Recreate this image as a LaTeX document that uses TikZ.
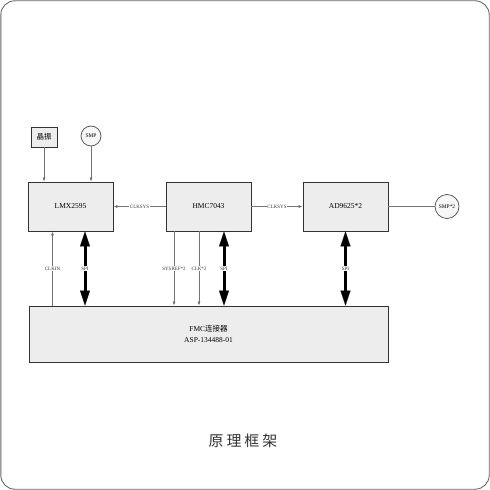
\documentclass[tikz,border=0pt]{standalone}
\usepackage{fontspec}
\setmainfont{Liberation Serif}
\newfontfamily\cjk{Noto Sans CJK SC}
\usetikzlibrary{arrows.meta}
\begin{document}
\begin{tikzpicture}[x=1bp,y=-1bp,
  blk/.style={draw=black!80, fill=black!7, line width=0.8bp, inner sep=0pt, font=\fontsize{7.5}{8}\selectfont},
  rnd/.style={circle, draw=black!70, fill=black!3, line width=0.7bp, inner sep=0pt, font=\fontsize{5.5}{6}\selectfont},
  thin/.style={draw=black!55, line width=0.7bp, -{Latex[length=4bp,width=3bp,fill=black]}},
  thick/.style={draw=black, line width=3bp, {Triangle[length=15bp,width=10bp,line width=0.1bp]}-{Triangle[length=15bp,width=10bp,line width=0.1bp]}},
  lbl/.style={fill=white, inner sep=0.6bp, font=\fontsize{5}{5}\selectfont, text=black!80}
]
\useasboundingbox (0,0) rectangle (490,490);
\draw[draw=black!60, line width=0.9bp, rounded corners=14bp] (0.8,0.8) rectangle (489.2,489.2);

\node[blk, minimum width=26bp, minimum height=20bp, font=\cjk\fontsize{7.5}{8}\selectfont] (xo) at (44,137) {晶振};
\node[rnd, minimum size=20bp] (smp) at (91,136) {SMP};
\node[blk, minimum width=85bp, minimum height=49bp] (lmx) at (70.5,206.5) {LMX2595};
\node[blk, minimum width=85bp, minimum height=49bp] (hmc) at (208.5,206.5) {HMC7043};
\node[blk, minimum width=85bp, minimum height=49bp] (ad) at (345.5,206.5) {AD9625*2};
\node[rnd, minimum size=24bp] (smp2) at (447,206.5) {SMP*2};
\node[blk, minimum width=359bp, minimum height=56bp, align=center] (fmc) at (208.5,334)
  {FMC{\cjk 连接器}\\[3bp]ASP-134488-01};

\draw[thin] (xo.south) -- (xo.south |- lmx.north);
\draw[thin] (smp.south) -- (smp.south |- lmx.north);
\draw[thin] (hmc.west) -- node[lbl] {CLKSYS} (lmx.east);
\draw[thin] (hmc.east) -- node[lbl] {CLKSYS} (ad.west);
\draw[draw=black!55, line width=0.7bp] (ad.east) -- (smp2.west);

\coordinate (c1) at (52.5,0);
\coordinate (c2) at (85,0);
\coordinate (c3) at (174,0);
\coordinate (c4) at (199,0);
\coordinate (c5) at (224,0);
\coordinate (c6) at (345.5,0);

\draw[thin] (c1 |- fmc.north) -- node[lbl] {CLKIN} (c1 |- lmx.south);
\draw[thick] (c2 |- lmx.south) -- node[lbl] {SPI} (c2 |- fmc.north);
\draw[thin] (c3 |- hmc.south) -- node[lbl] {SYSREF*2} (c3 |- fmc.north);
\draw[thin] (c4 |- hmc.south) -- node[lbl] {CLK*2} (c4 |- fmc.north);
\draw[thick] (c5 |- hmc.south) -- node[lbl] {SPI} (c5 |- fmc.north);
\draw[thick] (c6 |- ad.south) -- node[lbl] {SPI} (c6 |- fmc.north);

\node[text=black!80, font=\cjk\fontsize{15}{15}\selectfont] (title) at (243,441) {原\hspace{3bp}理\hspace{3bp}框\hspace{3bp}架};
\end{tikzpicture}
\end{document}
